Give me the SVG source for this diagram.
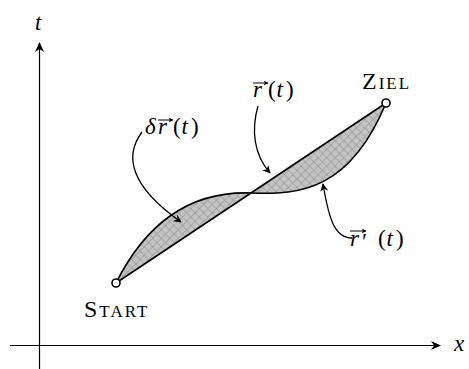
<svg xmlns="http://www.w3.org/2000/svg" width="469" height="369" viewBox="0 0 469 369">
<style>
.axis{stroke:#000;stroke-width:1.2;fill:none}
.curve{stroke:#000;stroke-width:1.6;fill:none;stroke-linejoin:round}
.ptr{stroke:#000;stroke-width:1.3;fill:none}
.vec{stroke:#000;stroke-width:1;fill:none}
.math{font-family:"Liberation Serif","DejaVu Serif",serif;font-style:italic;font-size:23px;fill:#000}
.up{font-style:normal}
.sc{font-family:"Liberation Serif","DejaVu Serif",serif;font-size:24px;fill:#000;letter-spacing:2px}
.scs{font-size:17px}
.pt{fill:#fff;stroke:#000;stroke-width:1.6}
</style>
<defs>
<marker id="ah" viewBox="0 0 10 10" refX="9" refY="5" markerWidth="8" markerHeight="8" markerUnits="userSpaceOnUse" orient="auto">
<path d="M0,0 L10,5 L0,10 L3,5 Z" fill="#000"/>
</marker>
<marker id="ax" viewBox="0 0 10 10" refX="9" refY="5" markerWidth="10" markerHeight="10" markerUnits="userSpaceOnUse" orient="auto">
<path d="M0,0.5 L10,5 L0,9.5 L3,5 Z" fill="#000"/>
</marker>
<marker id="vh" viewBox="0 0 10 10" refX="9" refY="5" markerWidth="5" markerHeight="5" markerUnits="userSpaceOnUse" orient="auto">
<path d="M0,0 L10,5 L0,10 L3,5 Z" fill="#000"/>
</marker>
<pattern id="hatch" width="6" height="6" patternUnits="userSpaceOnUse" patternTransform="rotate(45)">
<rect width="6" height="6" fill="#c3c3c3"/>
<path d="M0,0 H6 M0,0 V6" stroke="#888" stroke-width="0.9"/>
</pattern>
</defs>
<g id="axes">
<line class="axis" x1="39.5" y1="369" x2="39.5" y2="43" marker-end="url(#ax)"/>
<line class="axis" x1="10" y1="345.5" x2="440" y2="345.5" marker-end="url(#ax)"/>
<text class="math" x="35" y="30">t</text>
<text class="math" x="454" y="351">x</text>
</g>
<g id="region">
<path d="M116,283 C140,235 180,190 252,193 C300,195 350,190 386,103 Z" fill="url(#hatch)" stroke="none"/>
<path class="curve" d="M116,283 C140,235 180,190 252,193 C300,195 350,190 386,103"/>
<line class="curve" x1="116" y1="283" x2="386" y2="103"/>
</g>
<g id="connectors">
<path class="ptr" d="M142,132 C124,156 130,186 181,222" marker-end="url(#ah)"/>
<path class="ptr" d="M258,106 C251,130 254,155 270,173" marker-end="url(#ah)"/>
<path class="ptr" d="M352,238 C335,238 329,220 323,184" marker-end="url(#ah)"/>
</g>
<g id="start">
<circle class="pt" cx="116" cy="283" r="4"/>
<text class="sc" x="84" y="317">S<tspan class="scs">TART</tspan></text>
</g>
<g id="ziel">
<circle class="pt" cx="386" cy="103" r="4"/>
<text class="sc" x="362" y="89">Z<tspan class="scs">IEL</tspan></text>
</g>
<g id="labels">
<text class="math" x="145" y="134">δ<tspan x="158">r</tspan><tspan class="up" x="173">(</tspan><tspan x="181.5">t</tspan><tspan class="up" x="191">)</tspan></text>
<line class="vec" x1="158" y1="120" x2="173" y2="120" marker-end="url(#vh)"/>
<text class="math" x="253" y="97">r<tspan class="up" x="268">(</tspan><tspan x="276.5">t</tspan><tspan class="up" x="286">)</tspan></text>
<line class="vec" x1="253" y1="83" x2="268" y2="83" marker-end="url(#vh)"/>
<text class="math" x="350" y="246">r<tspan class="up" x="362" y="249">′</tspan><tspan class="up" x="378" y="246">(</tspan><tspan x="386.5">t</tspan><tspan class="up" x="396">)</tspan></text>
<line class="vec" x1="350" y1="231" x2="366" y2="231" marker-end="url(#vh)"/>
</g>
</svg>
